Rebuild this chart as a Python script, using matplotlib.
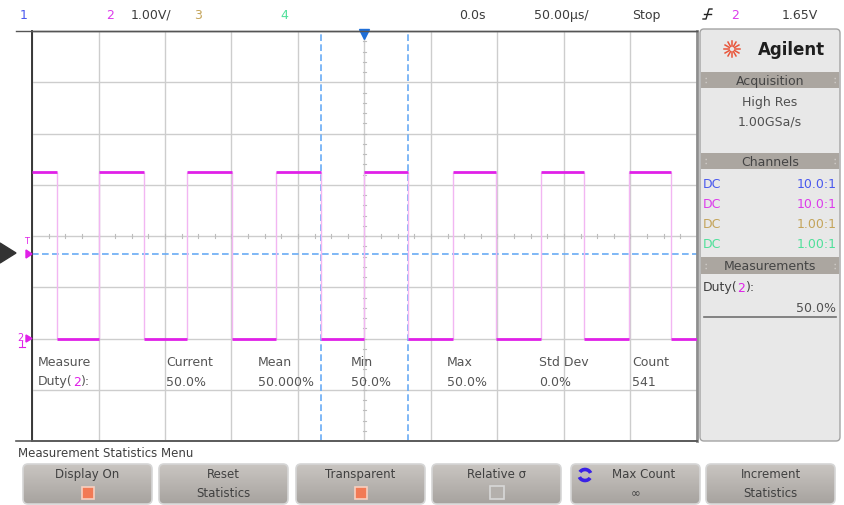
import numpy as np
import matplotlib

matplotlib.use("Agg")
import matplotlib.pyplot as plt
from matplotlib.patches import Arc, FancyBboxPatch, Polygon, Rectangle

plt.rcParams["font.family"] = ["DejaVu Sans"]

# channel 2 edges (microseconds) and levels (volts)
RISE_US = [-199.6, -133.2, -66.6, 0.0, 66.2, 132.6, 198.8]
FALL_US = [-231.5, -165.5, -99.5, -33.0, 32.5, 99.0, 165.0, 230.5]
HIGH_V = 3.25
LOW_V = 0.0
TRIGGER_V = 1.65
CURSOR_US = [-33.0, 32.5]

TIME_PER_DIV_US = 50.0
VOLTS_PER_DIV = 1.0
GROUND_DIV = -2

MEAS_HEADERS = ["Current", "Mean", "Min", "Max", "Std Dev", "Count"]
MEAS_VALUES = ["50.0%", "50.000%", "50.0%", "50.0%", "0.0%", "541"]

CHANNEL_COUPLING = ["DC", "DC", "DC", "DC"]
CHANNEL_PROBE = ["10.0:1", "10.0:1", "1.00:1", "1.00:1"]
CHANNEL_COLORS = ["#4a58ee", "#dc3cec", "#c4a45a", "#4fe09a"]

SOFTKEY_LINE1 = ["Display On", "Reset", "Transparent", "Relative \u03c3", "Max Count", "Increment"]
SOFTKEY_LINE2 = ["on", "Statistics", "on", "off", "\u221e", "Statistics"]

MAGENTA = "#e020e8"
EDGE_PINK = "#f2b6f2"
CURSOR_BLUE = "#69acf5"
TEXT = "#3c3c3c"
MEAS_TEXT = "#555555"
GRID = "#cdcdcd"

W, H = 844, 506
fig = plt.figure(figsize=(W / 100, H / 100), dpi=100, facecolor="white")
renderer = fig.canvas.get_renderer()

# graticule in time / volt units
x0, y0, x1, y1 = 32, 32, 697, 442
ax = fig.add_axes([x0 / W, 1 - y1 / H, (x1 - x0) / W, (y1 - y0) / H], zorder=1)
half_t = 5 * TIME_PER_DIV_US
centre_v = -GROUND_DIV * VOLTS_PER_DIV
ax.set_xlim(-half_t, half_t)
ax.set_ylim(centre_v - 4 * VOLTS_PER_DIV, centre_v + 4 * VOLTS_PER_DIV)
ax.set_xticks([])
ax.set_yticks([])
for t in np.arange(-half_t, half_t + 1, TIME_PER_DIV_US):
    ax.axvline(t, color=GRID, lw=1, zorder=1)
for v in np.arange(centre_v - 4, centre_v + 4.01, VOLTS_PER_DIV):
    ax.axhline(v, color=GRID, lw=1, zorder=1)

# minor ticks along the centre lines
for t in np.arange(-half_t, half_t, TIME_PER_DIV_US / 4):
    ax.plot([t, t], [centre_v - 0.04, centre_v + 0.04], color="#bdbdbd", lw=0.8, zorder=1)
for v in np.arange(centre_v - 4, centre_v + 4, VOLTS_PER_DIV / 5):
    ax.plot([-1.4, 1.4], [v, v], color="#bdbdbd", lw=0.8, zorder=1)

for side, col, lw in [("left", "#2a2a2a", 1.3), ("top", "#555555", 1.0),
                      ("right", "#8e8e8e", 2.0), ("bottom", "#5a5a5a", 1.2)]:
    ax.spines[side].set_color(col)
    ax.spines[side].set_linewidth(lw)

# cursors and trigger level
for c in CURSOR_US:
    ax.axvline(c, color=CURSOR_BLUE, lw=1.2, ls=(0, (4, 2)), zorder=2)
ax.axhline(TRIGGER_V, color=CURSOR_BLUE, lw=1.2, ls=(0, (4, 2)), zorder=2)

# square wave
edges = sorted([(t, HIGH_V) for t in RISE_US] + [(t, LOW_V) for t in FALL_US])
starts = [-half_t] + [t for t, _ in edges]
ends = [t for t, _ in edges] + [half_t]
levels = [HIGH_V] + [v for _, v in edges]
ax.vlines([t for t, _ in edges], LOW_V, HIGH_V, color=EDGE_PINK, lw=1, zorder=3)
ax.hlines(levels, starts, ends, color=MAGENTA, lw=2, zorder=4)

# trigger position marker
ax.plot([0], [centre_v + 4 * VOLTS_PER_DIV - 0.06], marker="v", ms=7, color="#1f6fd8",
        clip_on=False, zorder=5)

# overlay in pixel units for the instrument chrome
ov = fig.add_axes([0, 0, 1, 1], zorder=3)
ov.set_xlim(0, W)
ov.set_ylim(H, 0)
ov.axis("off")


def txt(x, y, s, color=TEXT, size=9, ha="left", **kw):
    return ov.text(x, y, s, color=color, fontsize=size, ha=ha, va="center", **kw)


def run_of_text(x, y, parts):
    # consecutive pieces of differently coloured text on one line
    for s, color in parts:
        t = txt(x, y, s, color)
        x += t.get_window_extent(renderer).width * W / fig.bbox.width


def duty_label(x, y, color):
    run_of_text(x, y, [("Duty(", color), ("2", MAGENTA), ("):", color)])


# top status line
ov.plot([16, x1], [y0, y0], color="#555555", lw=1)
ov.plot([16, x1], [y1, y1], color="#5a5a5a", lw=1.2)
txt(20, 15, "1", CHANNEL_COLORS[0])
txt(106, 15, "2", CHANNEL_COLORS[1])
txt(131, 15, "1.00V/")
txt(194, 15, "3", CHANNEL_COLORS[2])
txt(280, 15, "4", CHANNEL_COLORS[3])
txt(472, 15, "0.0s", ha="center")
txt(561, 15, "50.00\u00b5s/", ha="center")
txt(646, 15, "Stop", ha="center")
ov.plot([703, 706, 709, 712], [20, 20, 10, 10], color="#222222", lw=1)
ov.plot([704, 711], [15, 15], color="#222222", lw=1)
txt(735, 15, "2", CHANNEL_COLORS[1], ha="center")
txt(800, 15, "1.65V", ha="center")

# left edge markers
ov.add_patch(Polygon([(0, 244), (0, 264), (16, 254)], closed=True, color="#333333"))
txt(24, 241, "T", MAGENTA, size=6)
ov.add_patch(Polygon([(26, 251), (26, 259), (32, 255)], closed=True, color=MAGENTA))
txt(17, 338, "2", MAGENTA, size=7)
ov.add_patch(Polygon([(26, 336), (26, 343), (32, 339.5)], closed=True, color=MAGENTA))
ov.plot([22, 22], [342, 348], color=MAGENTA, lw=0.8)
ov.plot([19, 25], [348, 348], color=MAGENTA, lw=0.8)

# measurement statistics table
txt(38, 363, "Measure", MEAS_TEXT)
duty_label(38, 382, MEAS_TEXT)
for hx, head, val in zip([166, 258, 351, 447, 539, 632], MEAS_HEADERS, MEAS_VALUES):
    txt(hx, 363, head, MEAS_TEXT)
    txt(hx, 382, val, MEAS_TEXT)

# right hand panel
ov.add_patch(FancyBboxPatch((700, 30), 140, 412, boxstyle="round,pad=0,rounding_size=4",
                            facecolor="#e8e8e8", edgecolor="#a4a4a4", lw=1))
cx, cy = 732, 50
for a in np.linspace(0, 2 * np.pi, 12, endpoint=False):
    ov.plot([cx + 3 * np.cos(a), cx + 8 * np.cos(a)], [cy + 3 * np.sin(a), cy + 8 * np.sin(a)],
            color="#e8553a", lw=1.1)
txt(791, 50, "Agilent", "#1e1e1e", size=12, ha="center", fontweight="bold")

for top, bot, label in [(73, 89, "Acquisition"), (154, 170, "Channels"), (258, 275, "Measurements")]:
    ov.add_patch(Rectangle((701, top), 138, bot - top, facecolor="#aba6a0", edgecolor="none"))
    mid = (top + bot) / 2
    txt(770, mid, label, "#444444", ha="center")
    for gx in (705, 834):
        for dy in (-2, 2):
            ov.plot([gx, gx + 2], [mid + dy, mid + dy], color="#d0ccc8", lw=1, ls=(0, (1, 1)))

txt(770, 102, "High Res", "#505050", ha="center")
txt(770, 122, "1.00GSa/s", "#505050", ha="center")
for i, (cpl, probe, col) in enumerate(zip(CHANNEL_COUPLING, CHANNEL_PROBE, CHANNEL_COLORS)):
    y = 184 + i * 20
    txt(703, y, cpl, col)
    txt(837, y, probe, col, ha="right")
duty_label(703, 288, "#404040")
txt(836, 308, "50.0%", "#505050", ha="right")
ov.plot([704, 836], [318, 318], color="#707070", lw=1.2)

# softkey menu
txt(18, 454, "Measurement Statistics Menu", "#404040", size=8.5)
grad = np.linspace(0, 1, 40).reshape(-1, 1)
cmap = matplotlib.colors.LinearSegmentedColormap.from_list("key", ["#c9c5c1", "#a7a39f"])
keys_x = [23, 159, 296, 432, 571, 706]
for i, kx in enumerate(keys_x):
    kw = 129
    box = FancyBboxPatch((kx, 465), kw, 40, boxstyle="round,pad=0,rounding_size=5",
                         facecolor="none", edgecolor="#d6d6d6", lw=1.2, zorder=3)
    ov.add_patch(box)
    im = ov.imshow(grad, cmap=cmap, extent=(kx, kx + kw, 505, 465), aspect="auto", zorder=2)
    im.set_clip_path(box)
    mid = kx + kw / 2
    line2 = SOFTKEY_LINE2[i]
    if i == 4:
        txt(mid + 8, 475, SOFTKEY_LINE1[i], "#404040", size=8.5, ha="center")
        ov.add_patch(Arc((585, 476), 12, 11, theta1=30, theta2=160, color="#3a22e6", lw=2.6, zorder=4))
        ov.add_patch(Arc((585, 476), 12, 11, theta1=210, theta2=340, color="#3a22e6", lw=2.6, zorder=4))
    else:
        txt(mid, 475, SOFTKEY_LINE1[i], "#404040", size=8.5, ha="center")
    if line2 == "on":
        ov.add_patch(Rectangle((mid - 6, 488), 12, 12, facecolor="#f27a55",
                               edgecolor="#f8d0c0", lw=1.2, zorder=4))
    elif line2 == "off":
        ov.add_patch(Rectangle((mid - 7, 487), 14, 13, facecolor="#b4b0ac",
                               edgecolor="#d8d8d8", lw=1.2, zorder=4))
    else:
        txt(mid, 494, line2, "#404040", size=8.5, ha="center")

ov.set_xlim(0, W)
ov.set_ylim(H, 0)

fig.savefig("out.png", dpi=100, facecolor="white")
plt.close(fig)
